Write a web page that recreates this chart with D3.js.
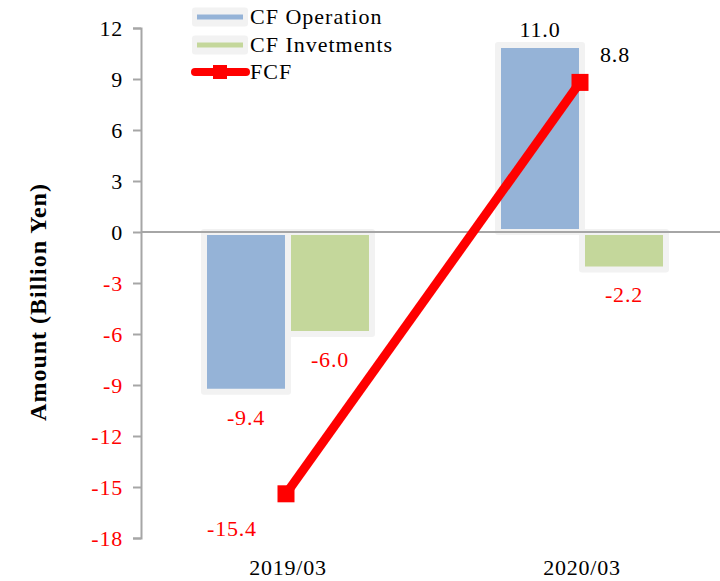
<!DOCTYPE html>
<html>
<head>
<meta charset="utf-8">
<script src="https://cdnjs.cloudflare.com/ajax/libs/d3/7.8.5/d3.min.js"></script>
<style>
  body { margin: 0; background: white; }
</style>
</head>
<body>
<script>
let width, height, svg, xScale, xInner, yScale, genAxis, genBars, genLine, genLabels, genLegend;

// data
const periods = ['2019/03', '2020/03'];
const cfOperation = [-9.4, 11.0];
const cfInvestments = [-6.0, -2.2];
const fcf = [-15.4, 8.8];
const seriesNames = ['CF Operation', 'CF Invetments', 'FCF'];
const yTicks = [12, 9, 6, 3, 0, -3, -6, -9, -12, -15, -18];

width = 720;
height = 581;

const serif = '"Liberation Serif", "Times New Roman", Times, serif';
const colors = { op: '#95b3d7', inv: '#c4d79b', fcf: '#ff0000', border: '#f2f2f2', axis: '#a6a6a6' };
const fmt1 = v => v.toFixed(1);

svg = d3.select('body')
        .append('svg')
        .attr('width', width)
        .attr('height', height)
        .style('font-family', serif)
        .style('background-color', 'white')

xScale = d3.scaleBand()
            .domain(periods)
            .range([141, 729])

xInner = d3.scaleBand()
            .domain(['op', 'inv'])
            .range([-84, 84])

yScale = d3.scaleLinear()
            .domain([-18, 12])
            .range([538, 28])

const cx = p => xScale(p) + xScale.bandwidth() / 2;

genAxis = () => {
    let yAxis = d3.axisLeft(yScale).tickValues(yTicks).tickSize(8).tickPadding(10).tickFormat(d => String(d))
    let g = svg.append('g')
        .attr('transform', 'translate(141,0)')
        .call(yAxis)
    g.attr('font-family', null).attr('font-size', null)
    g.select('.domain').attr('stroke', colors.axis).attr('stroke-width', 2)
    g.selectAll('.tick line').attr('stroke', colors.axis).attr('stroke-width', 2)
    g.selectAll('.tick text')
        .style('font-family', serif)
        .style('font-size', '22px')
        .style('letter-spacing', '0.8px')
        .attr('fill', d => d < 0 ? '#ff0000' : '#000')

    svg.selectAll('.xlabel')
        .data(periods)
        .enter()
        .append('text')
        .attr('class', 'xlabel')
        .attr('x', d => cx(d))
        .attr('y', 575)
        .attr('text-anchor', 'middle')
        .style('font-size', '22px')
        .style('letter-spacing', '0.8px')
        .text(d => d)

    svg.append('text')
        .attr('transform', 'translate(38,302) rotate(-90)')
        .attr('text-anchor', 'middle')
        .attr('dominant-baseline', 'central')
        .style('font-size', '24px')
        .style('font-weight', 'bold')
        .style('letter-spacing', '1px')
        .text('Amount (Billion Yen)')
}

const bars = [];
periods.forEach((p, i) => {
    bars.push({ p: p, key: 'op', v: cfOperation[i] });
    bars.push({ p: p, key: 'inv', v: cfInvestments[i] });
});

genBars = () => {
    svg.selectAll('rect.bar')
        .data(bars)
        .enter()
        .append('rect')
        .attr('class', 'bar')
        .attr('x', d => cx(d.p) + xInner(d.key))
        .attr('width', xInner.bandwidth())
        .attr('y', d => yScale(Math.max(0, d.v)))
        .attr('height', d => Math.abs(yScale(d.v) - yScale(0)))
        .attr('fill', d => colors[d.key])
        .attr('stroke', colors.border)
        .attr('stroke-width', 6)
        .attr('stroke-linejoin', 'round')

    // zero line
    svg.append('line')
        .attr('x1', 141)
        .attr('x2', width)
        .attr('y1', yScale(0))
        .attr('y2', yScale(0))
        .attr('stroke', colors.axis)
        .attr('stroke-width', 2)
}

genLine = () => {
    let pts = periods.map((p, i) => [cx(p) - 2, yScale(fcf[i])]);
    svg.append('path')
        .attr('d', d3.line()(pts))
        .attr('fill', 'none')
        .attr('stroke', colors.fcf)
        .attr('stroke-width', 9)
    svg.selectAll('rect.marker')
        .data(pts)
        .enter()
        .append('rect')
        .attr('class', 'marker')
        .attr('x', d => d[0] - 8.5)
        .attr('y', d => d[1] - 8.5)
        .attr('width', 17)
        .attr('height', 17)
        .attr('fill', colors.fcf)
}

genLabels = () => {
    let lab = svg.append('g')
        .style('font-size', '22px')
        .style('letter-spacing', '0.8px')
        .attr('text-anchor', 'middle')
    lab.selectAll('text.barlab')
        .data(bars)
        .enter()
        .append('text')
        .attr('x', d => cx(d.p) + xInner(d.key) + xInner.bandwidth() / 2)
        .attr('y', d => d.v < 0 ? yScale(d.v) + 33 : yScale(d.v) - 8)
        .attr('fill', d => d.v < 0 ? '#ff0000' : '#000')
        .text(d => fmt1(d.v))
    lab.selectAll('text.fcflab')
        .data(fcf)
        .enter()
        .append('text')
        .attr('x', (d, i) => cx(periods[i]) + (d < 0 ? -56 : 33))
        .attr('y', (d, i) => yScale(d) + (d < 0 ? 42 : -20))
        .attr('fill', d => d < 0 ? '#ff0000' : '#000')
        .text(d => fmt1(d))
}

genLegend = () => {
    let g = svg.append('g')
    let rowY = [17, 45, 72];
    seriesNames.forEach((name, i) => {
        if (i < 2) {
            g.append('rect')
                .attr('x', 192).attr('y', rowY[i] - 9.5)
                .attr('width', 56).attr('height', 19)
                .attr('rx', 3)
                .attr('fill', colors.border)
            g.append('line')
                .attr('x1', 197).attr('x2', 243)
                .attr('y1', rowY[i]).attr('y2', rowY[i])
                .attr('stroke', i == 0 ? colors.op : colors.inv)
                .attr('stroke-width', 5)
        } else {
            g.append('line')
                .attr('x1', 195).attr('x2', 246)
                .attr('y1', rowY[i]).attr('y2', rowY[i])
                .attr('stroke', colors.fcf)
                .attr('stroke-width', 8)
                .attr('stroke-linecap', 'round')
            g.append('rect')
                .attr('x', 213).attr('y', rowY[i] - 7)
                .attr('width', 14).attr('height', 14)
                .attr('fill', colors.fcf)
        }
        g.append('text')
            .attr('x', 250)
            .attr('y', rowY[i] + 7)
            .style('font-size', '22px')
            .style('letter-spacing', '1px')
            .text(name)
    })
}

genBars();
genAxis();
genLine();
genLabels();
genLegend();
</script>
</body>
</html>
